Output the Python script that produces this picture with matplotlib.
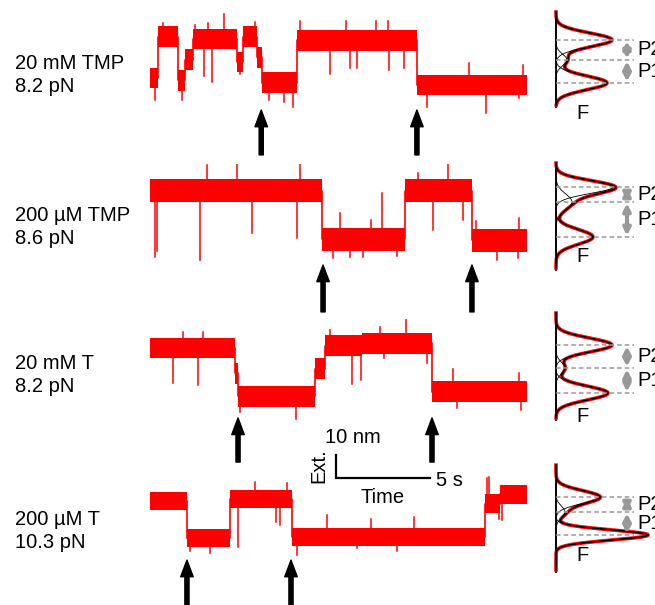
import matplotlib
matplotlib.use('Agg')
import matplotlib.pyplot as plt
import numpy as np

plt.rcParams['font.family'] = ['Liberation Sans', 'DejaVu Sans']

# Step levels of the four extension traces (time in s, extension in nm)
labels = ['20 mM TMP\n8.2 pN', '200 µM TMP\n8.6 pN', '20 mM T\n8.2 pN', '200 µM T\n10.3 pN']
edges = [
    [0, 0.42, 1.49, 1.86, 2.28, 4.62, 4.93, 5.68, 5.94, 7.80, 14.16, 20.0],
    [0, 9.15, 13.53, 17.08, 20.0],
    [0, 4.51, 4.67, 8.75, 9.28, 11.25, 14.98, 20.0],
    [0, 1.96, 4.24, 7.53, 17.77, 18.57, 20.0],
]
levels = [
    [3, 21, 2, 11, 20, 10, 21, 12, 1, 19.5, 0],
    [21, 0, 21, -0.5],
    [20, 9, -1, 11, 21, 22, 1],
    [16, 0, 17, 0.5, 15, 19],
]
noise = [4.5, 5.0, 4.5, 4.0]

# excursions seen on each trace (time, extension)
spikes = [
    [(0.27, -6.5), (0.7, 26.8), (1.70, -6.5), (2.39, 26), (2.86, 4), (3.1, 26.8), (3.3, 1.5),
     (3.9, 31), (4.8, 4.6), (5.57, 27.5), (6.3, -6.5), (7.1, -7.2), (7.6, -9.5), (7.96, 28),
     (9.55, 4.6), (10.4, 28), (10.6, 7.4), (11.0, 7.2), (12.0, 28), (12.6, 28), (12.7, 6.5),
     (13.5, 7.2), (14.7, -9.5), (16.9, 9.4), (17.8, -12.3), (19.6, -5.8), (19.8, 8.7)],
    [(0.27, -8), (0.37, -5), (2.65, -9), (3.0, 32), (4.6, 32.5), (5.4, 2.8), (7.8, 0.6),
     (7.96, 32.5), (9.7, -8.4), (10.1, 11.3), (10.6, -7.8), (11.3, -7.8), (11.7, 8.4),
     (12.3, 20), (13.1, -7.2), (14.2, 28.7), (15.0, 3.8), (15.8, 32.5), (16.6, 8.4),
     (17.3, 7.8), (18.4, -9.3), (19.5, -8.4), (19.6, 9.3)],
    [(1.22, 5), (1.75, 27), (2.55, 4), (2.8, 27), (4.8, -8), (7.74, -11), (9.55, 28),
     (10.7, 4.3), (11.2, 6), (12.2, 29), (12.4, 15.8), (13.6, 33), (14.7, 13.5),
     (16.1, 11), (16.3, -6), (19.6, 9), (19.7, -7)],
    [(2.1, -5.8), (3.2, -6.6), (4.67, -4), (5.57, 24.5), (6.7, 6.9), (6.9, 5.7),
     (7.27, 23.7), (7.8, -7.4), (9.4, 10), (11.0, -4.3), (11.7, 8.4), (13.1, -5.8),
     (14.0, 9.3), (17.9, 26), (18.0, 26.7), (18.5, 8.4), (18.7, 8)],
]
arrow_times = [[5.9, 14.16], [9.18, 17.08], [4.67, 14.96], [1.96, 7.48]]

# Gaussian fits of the extension histograms: centres (nm), heights, widths
hist_centres = [[19.6, 10.9, 0.9], [22.6, 16.1, 0.9], [21.3, 11.3, 0.4], [17.8, 11.3, 1.3]]
hist_heights = [[56, 11, 51], [57, 16, 37], [56, 9, 52], [44, 9, 92]]
hist_widths = [[3.0, 2.5, 3.0], [2.8, 3.5, 3.2], [3.0, 2.5, 3.0], [2.8, 2.5, 2.2]]
peak_names = ['P2', 'P1']

# layout in pixels
W, H = 655, 605
baselines = [85, 239, 394, 538]
arrow_ends = [(-10.9, -30.4), (-11.3, -31.7), (-10.4, -29.6), (-9.6, -29.1)]
hist_bounds = [(-9.6, 31.7), (-13.5, 33), (-11.3, 35.2), (-14.8, 31.7)]
f_pos = [-12.2, -7.8, -10.0, -7.4]
label_y = [75, 227, 375, 531]
PXNM = 2.3
RED = '#ff0000'
FS = 14.5

fig = plt.figure(figsize=(W / 100, H / 100), dpi=100)


def px_axes(x0, y0, w, h):
    ax = fig.add_axes([x0 / W, 1 - (y0 + h) / H, w / W, h / H])
    ax.set_axis_off()
    return ax


half = 75 / PXNM
for i in range(4):
    b = baselines[i]
    ax = px_axes(150, b - 75, 377, 150)
    ax.set_xlim(0, 20)
    ax.set_ylim(-half, half)

    t = np.array(edges[i])
    lv = np.array(levels[i] + [levels[i][-1]])
    ax.fill_between(t, lv - noise[i], lv + noise[i], step='post', color=RED, lw=0)
    ax.step(t, lv, where='post', color=RED, lw=1.2)
    for ts, v in spikes[i]:
        k = np.searchsorted(t, ts, side='right') - 1
        ax.plot([ts, ts], [lv[k], v], color=RED, lw=1.1)

    tip, tail = arrow_ends[i]
    for ta in arrow_times[i]:
        ax.annotate('', xy=(ta, tip), xytext=(ta, tail),
                    arrowprops=dict(width=3, headwidth=9, headlength=12, shrink=0,
                                    facecolor='black', edgecolor='black'),
                    annotation_clip=False)

    fig.text(15 / W, 1 - label_y[i] / H, labels[i], fontsize=FS, va='center',
             ha='left', linespacing=1.3)

    # histogram panel
    hx = px_axes(556, b - 75, 80, 150)
    hx.set_xlim(0, 80)
    hx.set_ylim(-half, half)
    lo, hi = hist_bounds[i]
    hx.plot([0, 0], [lo, hi], color='black', lw=1.3, clip_on=False)
    y = np.linspace(lo + 1, hi, 400)
    comps = [a * np.exp(-(y - c) ** 2 / (2 * s ** 2))
             for c, a, s in zip(hist_centres[i], hist_heights[i], hist_widths[i])]
    total = np.sum(comps, axis=0)
    hx.plot(total, y, color=RED, lw=2.6, clip_on=False)
    for cp in comps:
        hx.plot(cp, y, color='black', lw=0.6, clip_on=False)
    hx.plot(total, y, color='black', lw=1.0, clip_on=False)
    for c in hist_centres[i]:
        hx.plot([0, 78], [c, c], color='#999999', lw=1.1, ls=(0, (3, 2)), clip_on=False)
    cs = hist_centres[i]
    for j in range(2):
        top, bot = cs[j], cs[j + 1]
        hx.annotate('', xy=(71, top - 0.5), xytext=(71, bot + 0.5),
                    arrowprops=dict(arrowstyle='<|-|>', color='#999999', lw=3,
                                    mutation_scale=10, shrinkA=0, shrinkB=0),
                    annotation_clip=False)
        hx.text(81, (top + bot) / 2, peak_names[j], fontsize=FS, va='center', ha='left',
                clip_on=False)
    hx.text(27, f_pos[i], 'F', fontsize=FS, ha='center', va='center')

    # scale bar under the third trace
    if i == 2:
        x0, y0 = 9.87, -36.5
        ax.plot([x0, x0, x0 + 5], [y0 + 10, y0, y0], color='black', lw=1.6,
                clip_on=False, solid_joinstyle='miter')
        ax.text(9.28, -19.1, '10 nm', fontsize=FS, ha='left', va='center')
        ax.text(8.95, -31.0, 'Ext.', fontsize=FS, ha='center', va='center', rotation=90)
        ax.text(12.36, -44.8, 'Time', fontsize=FS, ha='center', va='center')
        ax.text(15.17, -37.6, '5 s', fontsize=FS, ha='left', va='center')

fig.savefig('out.png', dpi=100)
